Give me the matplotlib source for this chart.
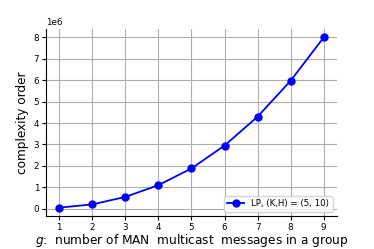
import numpy as np
import matplotlib.pyplot as plt

g = [1, 2, 3, 4, 5, 6, 7, 8, 9]
complexity = [0.05e6, 0.2e6, 0.55e6, 1.1e6, 1.88e6, 2.95e6, 4.3e6, 5.98e6, 8.0e6]

fig = plt.figure(figsize=(3.74, 2.49), dpi=100)
ax = fig.add_axes([0.123, 0.132, 0.778, 0.752])

ax.plot(g, complexity, 'o-', color='blue', markersize=5, linewidth=1.3,
        label='LP, (K,H) = (5, 10)')
ax.grid(True, color='#b0b0b0', linewidth=0.8)
ax.spines['top'].set_visible(False)
ax.spines['right'].set_visible(False)
ax.tick_params(labelsize=6.3, pad=2, length=3)
ax.yaxis.get_offset_text().set_fontsize(6.3)
ax.set_xticks(g)
ax.set_ylabel('complexity order', fontsize=8.7, labelpad=3)
ax.set_xlabel('$g$:  number of MAN  multicast  messages in a group', fontsize=8.7, labelpad=0)
ax.legend(loc='lower right', fontsize=6.2)

fig.savefig('out.png', dpi=100)
